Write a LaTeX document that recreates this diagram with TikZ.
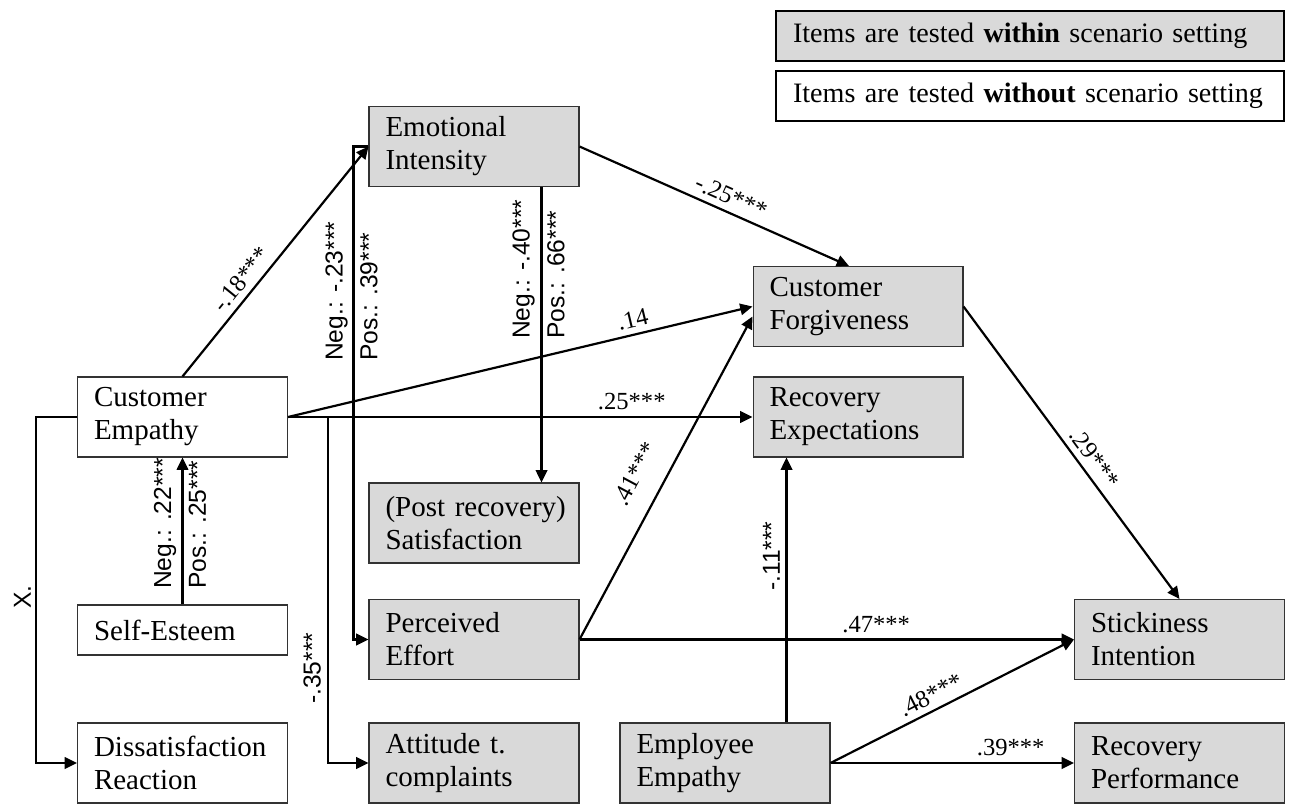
\documentclass[tikz,border=0pt]{standalone}
\usepackage{fontspec}
\setmainfont{Liberation Serif}
\setsansfont{Liberation Sans}
\usetikzlibrary{positioning}
\usetikzlibrary{arrows.meta}
\usetikzlibrary{calc}

\begin{document}
\begin{tikzpicture}[x=0.02cm, y=-0.02cm,
    box/.style={draw=black!80, line width=0.6pt, rectangle, align=left, text width=3.54cm, inner xsep=0.33cm, minimum height=1.6cm, font=\fontsize{16.5}{18.8}\selectfont},
    graybox/.style={box, fill=black!15},
    legendbox/.style={draw, line width=1.1pt, rectangle, align=left, text width=9.48cm, inner xsep=0.34cm, minimum height=1cm, font=\fontsize{16}{18.8}\selectfont},
    arr/.style={-{Triangle[length=7pt,width=6.5pt]}, line width=1.25pt},
    lbl/.style={font=\fontsize{14}{16}\selectfont},
    slbl/.style={font=\sffamily\fontsize{14}{16}\selectfont, rotate=90}]
    \useasboundingbox (0,0) rectangle (1289,804);

    % legend
    \node[legendbox, fill=black!15] (within) at (1030,36) {\mbox{Items are tested \textbf{within} scenario setting}};
    \node[legendbox] (without) at (1030,96) {\mbox{Items are tested \textbf{without} scenario setting}};

    % constructs
    \node[graybox] (EI) at (474,146.5) {Emotional\\Intensity};
    \node[box] (CE) at (182.5,417) {Customer\\Empathy};
    \node[box, minimum height=1cm] (SE) at (182.5,630) {Self-Esteem};
    \node[box] (DR) at (182.5,763) {Dissatisfaction\\Reaction};
    \node[graybox] (SA) at (474,523) {\mbox{(Post recovery)}\\Satisfaction};
    \node[graybox] (PE) at (474,639.5) {Perceived\\Effort};
    \node[graybox] (AT) at (474,763) {Attitude t.\\complaints};
    \node[graybox] (EE) at (725,763) {Employee\\Empathy};
    \node[graybox] (CF) at (858,306.5) {Customer\\Forgiveness};
    \node[graybox] (RE) at (858,417) {Recovery\\Expectations};
    \node[graybox] (ST) at (1179.5,639.5) {Stickiness\\Intention};
    \node[graybox] (RP) at (1179.5,763) {Recovery\\Performance};

    % paths
    \draw[arr] (CE.north) -- node[lbl, sloped, above, pos=0.38] (l18) {-.18***} (EI.west);
    \draw[arr] (EI.east) -- node[lbl, sloped, above, pos=0.54] (l25a) {-.25***} ($(CF.north)+(-9,0)$);
    \draw[arr] (EI.west) -- ++(-15,0) |- (PE.west);
    \draw[arr] ($(EI.south east)+(-38,0)$) -- ($(SA.north east)+(-38,0)$);
    \draw[arr] (CE.east) -- node[lbl, sloped, above, pos=0.75] (l14) {.14} (CF.west);
    \draw[arr] (CE.east) -- node[lbl, above, pos=0.74] (l25b) {.25***} (RE.west);
    \draw[arr] (CE.east) -- ++(40,0) |- (AT.west);
    \draw[arr] (CE.west) -- ++(-41,0) |- (DR.west);
    \draw[arr] (SE.north) -- (CE.south);
    \draw[arr] (PE.east) -- node[lbl, sloped, above=8pt, pos=0.47] (l41) {.41***} ($(CF.west)+(0,10)$);
    \draw[arr] (PE.east) -- node[lbl, above, pos=0.6] (l47) {.47***} (ST.west);
    \coordinate (eeup) at ($(EE.north east)+(-44,0)$);
    \draw[arr] (eeup) -- (eeup |- RE.south);
    \draw[arr] (EE.east) -- node[lbl, sloped, above, pos=0.44] (l48) {.48***} (ST.west);
    \draw[arr] (EE.east) -- node[lbl, above, pos=0.74] (l39) {.39***} (RP.west);
    \draw[arr] (CF.east) -- node[lbl, sloped, above, pos=0.55] (l29) {.29***} (ST.north);

    % vertical labels
    \node[slbl, anchor=south west] (n23) at (354,367) {Neg.: -.23***};
    \node[slbl, anchor=north west] (p39) at (354,367) {Pos.: .39***};
    \node[slbl, anchor=south west] (n40) at (541,345) {Neg.: -.40***};
    \node[slbl, anchor=north west] (p66) at (541,345) {Pos.: .66***};
    \node[slbl, anchor=south west] (n22) at (182.5,595) {Neg.: .22***};
    \node[slbl, anchor=north west] (p25) at (182.5,595) {Pos.: .25***};
    \node[slbl, anchor=south west] (l35) at (327,710) {-.35***};
    \node[slbl, anchor=south west] (l11) at (786,597) {-.11***};
    \node[slbl, anchor=south west] (lx) at (37,615) {X.};
\end{tikzpicture}
\end{document}
